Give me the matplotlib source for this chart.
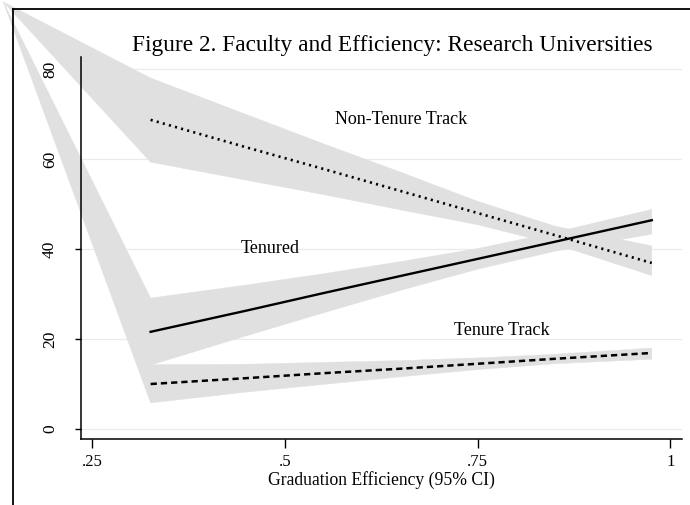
import numpy as np
import matplotlib.pyplot as plt
from matplotlib.lines import Line2D

plt.rcParams['font.family'] = ['Liberation Serif', 'DejaVu Serif']

# graduation efficiency values where the fitted lines / CI are sampled
eff = [0.326, 0.45, 0.55, 0.65, 0.75, 0.85, 0.976]

# non-tenure track (dotted)
nontenure_fit = [68.7, 62.6, 57.8, 52.9, 48.0, 43.1, 36.9]
nontenure_hi = [78.0, 69.9, 63.4, 57.1, 50.6, 45.1, 40.7]
nontenure_lo = [59.3, 55.3, 52.1, 48.7, 45.4, 41.1, 34.1]

# tenured (solid)
tenured_fit = [21.6, 26.3, 30.2, 34.0, 37.8, 41.6, 46.4]
tenured_hi = [29.1, 32.0, 34.5, 37.2, 40.1, 43.7, 48.8]
tenured_lo = [14.2, 20.7, 25.8, 30.8, 35.5, 39.5, 43.3]

# tenure track (dashed)
track_fit = [10.0, 11.3, 12.4, 13.4, 14.5, 15.6, 16.9]
track_hi = [14.3, 14.4, 14.8, 15.2, 15.8, 16.6, 18.0]
track_lo = [5.8, 8.2, 9.9, 11.6, 13.2, 14.5, 15.5]

# stray start point of the shaded areas (top left corner of the export)
band_origin = (0.135, 94.9)

xticks = [0.25, 0.5, 0.75, 1]
xticklabels = ['.25', '.5', '.75', '1']
yticks = [0, 20, 40, 60, 80]

labels = ['Non-Tenure Track', 'Tenured', 'Tenure Track']
label_x = [0.651, 0.4815, 0.781]
label_y = [68.7, 40.2, 22.0]

W, H = 690, 505
fig = plt.figure(figsize=(W / 100, H / 100), dpi=100)
ax = fig.add_axes([81 / W, 1 - 439 / H, (682 - 81) / W, (439 - 57) / H])

band_col = '#e0e0e0'
for hi, lo in [(nontenure_hi, nontenure_lo), (tenured_hi, tenured_lo), (track_hi, track_lo)]:
    xs = [band_origin[0]] + eff + eff[::-1] + [band_origin[0]]
    ys = [band_origin[1]] + hi + lo[::-1] + [band_origin[1]]
    ax.fill(xs, ys, color=band_col, lw=0.3, ec=band_col, clip_on=False, zorder=1)

ax.plot(eff, nontenure_fit, color='black', lw=1.9, linestyle=(0, (0.8, 1.6)), zorder=3)
ax.plot(eff, tenured_fit, color='black', lw=1.7, zorder=3)
ax.plot(eff, track_fit, color='black', lw=1.8, linestyle=(0, (2.5, 1.6)), zorder=3)

for t, x, y in zip(labels, label_x, label_y):
    ax.text(x, y, t, fontsize=13, ha='center', va='center', zorder=4)

ax.set_xlim(0.2357, 1.0152)
ax.set_ylim(-2.22, 82.67)
ax.set_xticks(xticks)
ax.set_xticklabels(xticklabels, fontsize=12)
ax.set_yticks(yticks)
ax.set_yticklabels([str(v) for v in yticks], fontsize=12.5, rotation=90, va='center')
ax.tick_params(axis='x', length=6.5, width=1, pad=4)
ax.tick_params(axis='y', length=4.5, width=1, pad=12)
ax.yaxis.grid(True, color='#eaeaea', lw=0.9)
ax.set_axisbelow(True)
for s in ['top', 'right']:
    ax.spines[s].set_visible(False)
for s in ['left', 'bottom']:
    ax.spines[s].set_linewidth(1.1)
    ax.spines[s].set_zorder(5)

ax.set_xlabel('Graduation Efficiency (95% CI)', fontsize=12.7, labelpad=1)

fig.text(392 / W, 1 - 45 / H, 'Figure 2. Faculty and Efficiency: Research Universities',
         fontsize=16.8, ha='center', va='center')

# outer frame pieces
fig.add_artist(Line2D([13 / W, 1], [1 - 9 / H] * 2, color='black', lw=1.3, transform=fig.transFigure))
fig.add_artist(Line2D([13 / W] * 2, [0, 1 - 9 / H], color='black', lw=1.3, transform=fig.transFigure))

fig.savefig('out.png', dpi=100)
